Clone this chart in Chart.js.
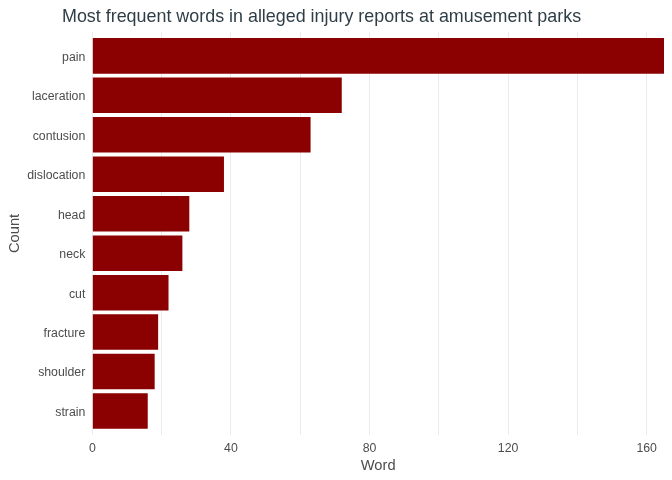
<!DOCTYPE html>
<html>
<head>
<meta charset="utf-8">
<script src="https://cdn.jsdelivr.net/npm/chart.js@4/dist/chart.umd.min.js"></script>
<style>
  html, body { margin: 0; padding: 0; background: #ffffff; }
  #wrap { width: 672px; height: 480px; position: relative; }
</style>
</head>
<body>
<div id="wrap"><canvas id="c" width="672" height="480"></canvas></div>
<script>
const chartTitle = "Most frequent words in alleged injury reports at amusement parks";
const words = ["pain", "laceration", "contusion", "dislocation", "head", "neck", "cut", "fracture", "shoulder", "strain"];
const counts = [165, 72, 63, 38, 28, 26, 22, 19, 18, 16];
const xTickValues = [0, 40, 80, 120, 160];
const xGridValues = [0, 20, 40, 60, 80, 100, 120, 140, 160];
const xTitle = "Word";
const yTitle = "Count";

const FONT = "'Liberation Sans', Arial, sans-serif";

const points = words.map((w, i) => ({ x: counts[i], y: i + 1 }));

const titlePlugin = {
  id: 'customTitle',
  afterDraw(chart) {
    const ctx = chart.ctx;
    ctx.save();
    ctx.font = "17.9px " + FONT;
    ctx.fillStyle = "#2F3E46";
    ctx.textAlign = "left";
    ctx.textBaseline = "alphabetic";
    ctx.fillText(chartTitle, 62, 21.7);
    ctx.restore();
  }
};

new Chart(document.getElementById('c'), {
  type: 'bar',
  data: {
    datasets: [{
      data: points,
      backgroundColor: '#8B0000',
      borderWidth: 0,
      categoryPercentage: 1.0,
      barPercentage: 0.9
    }]
  },
  options: {
    indexAxis: 'y',
    responsive: false,
    animation: false,
    devicePixelRatio: 1,
    layout: { padding: { top: 32.2, right: 8, left: 0, bottom: 0 } },
    plugins: {
      legend: { display: false },
      title: { display: false },
      tooltip: { enabled: false }
    },
    scales: {
      x: {
        type: 'linear',
        position: 'bottom',
        min: 0,
        max: 165,
        offset: false,
        afterBuildTicks(scale) { scale.ticks = xGridValues.map(v => ({ value: v })); },
        afterFit(scale) { scale.height = 480 - 434.7; },
        border: { display: false },
        grid: {
          drawTicks: false,
          offset: false,
          color: '#EBEBEB',
          lineWidth: 1
        },
        ticks: {
          padding: 7,
          color: '#4D4D4D',
          font: { family: FONT, size: 12.3 },
          maxRotation: 0,
          autoSkip: false,
          callback: (v) => xTickValues.includes(v) ? String(v) : ''
        },
        title: {
          display: true,
          text: xTitle,
          color: '#4D4D4D',
          font: { family: FONT, size: 14.7 },
          padding: { top: 0, bottom: 5 }
        }
      },
      y: {
        type: 'linear',
        reverse: true,
        min: 0.4,
        max: 10.6,
        offset: false,
        afterBuildTicks(scale) { scale.ticks = words.map((w, i) => ({ value: i + 1 })); },
        afterFit(scale) { scale.width = 92.3; },
        border: { display: false },
        grid: { display: false, drawTicks: false, offset: false },
        ticks: {
          padding: 7,
          labelOffset: 1.5,
          color: '#4D4D4D',
          font: { family: FONT, size: 12.3 },
          autoSkip: false,
          callback: (v) => words[Math.round(v) - 1]
        },
        title: {
          display: true,
          text: yTitle,
          color: '#4D4D4D',
          font: { family: FONT, size: 14.7 },
          padding: { top: 6.5, bottom: 0 }
        }
      }
    }
  },
  plugins: [titlePlugin]
});
</script>
</body>
</html>
